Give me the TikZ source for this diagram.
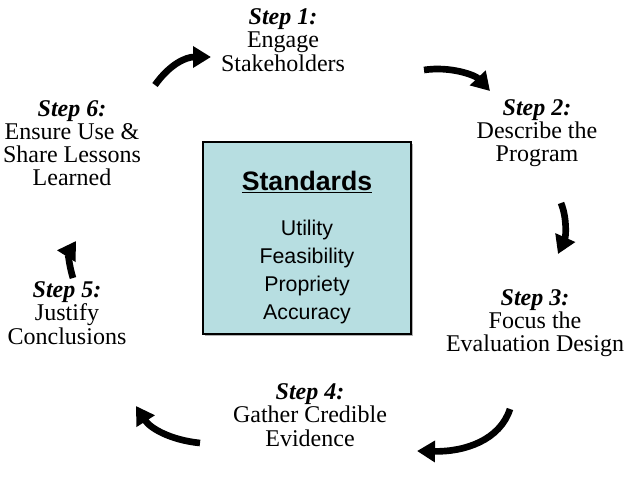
\documentclass[tikz,border=0pt]{standalone}
\usepackage{fontspec}
\setmainfont{Liberation Serif}
\newfontfamily\arialfont{Liberation Sans}
\usetikzlibrary{arrows.meta}
\definecolor{stdfill}{HTML}{B7DEE1}
\tikzset{
  steptext/.style={align=center, inner sep=0pt, font=\fontsize{18}{17.4}\selectfont},
  cyclearrow/.style={line width=5pt, -{Triangle[length=13.5pt,width=15.5pt]}},
}
\newcommand{\steplabel}[1]{\textbf{\textit{Step #1:}}}
\begin{document}
\begin{tikzpicture}[x=0.75pt, y=-0.75pt]
  \useasboundingbox (0,0) rectangle (629,480);

  % central standards box with a soft grey shadow
  \fill[gray!60] (205,144) rectangle (413,336);
  \draw[line width=1.3pt, fill=stdfill] (203,142) rectangle (411,334);
  \node[font=\arialfont\bfseries\fontsize{20}{24}\selectfont, inner sep=0pt] (stdtitle) at (307,182) {\underline{Standards}};
  \node[font=\arialfont\fontsize{16}{21}\selectfont, align=center, inner sep=0pt] (stdlist) at (307,272)
    {Utility\\Feasibility\\Propriety\\Accuracy};

  % the six steps around the box
  \node[steptext] (s1) at (283,40) {\steplabel{1}\\Engage\\Stakeholders};
  \node[steptext] (s2) at (537,133) {\steplabel{2}\\Describe the\\Program};
  \node[steptext] (s3) at (535,323) {\steplabel{3}\\Focus the\\Evaluation Design};
  \node[steptext] (s4) at (310,415) {\steplabel{4}\\Gather Credible\\Evidence};
  \node[steptext] (s5) at (67,313) {\steplabel{5}\\Justify\\Conclusions};
  \node[steptext] (s6) at (72,143) {\steplabel{6}\\Ensure Use \&\\Share Lessons\\Learned};

  % arrow end points
  \coordinate (a1s) at (155,85);  \coordinate (a1e) at (211,57);
  \coordinate (a2s) at (424,70);  \coordinate (a2e) at (490,91);
  \coordinate (a3s) at (561,203); \coordinate (a3e) at (558,254);
  \coordinate (a4s) at (510,409); \coordinate (a4e) at (417,451);
  \coordinate (a5s) at (200,443); \coordinate (a5e) at (136,406);
  \coordinate (a6s) at (73,278);  \coordinate (a6e) at (76,241);

  % curved arrows running clockwise
  \draw[cyclearrow] (a1s) .. controls (170,64) and (186,57) .. (a1e);
  \draw[cyclearrow] (a2s) .. controls (450,66) and (475,75) .. (a2e);
  \draw[cyclearrow] (a3s) .. controls (567,218) and (566,236) .. (a3e);
  \draw[cyclearrow] (a4s) .. controls (500,440) and (465,452) .. (a4e);
  \draw[cyclearrow] (a5s) .. controls (170,440) and (150,428) .. (a5e);
  \draw[cyclearrow] (a6s) .. controls (68,262) and (69,252) .. (a6e);
\end{tikzpicture}
\end{document}
